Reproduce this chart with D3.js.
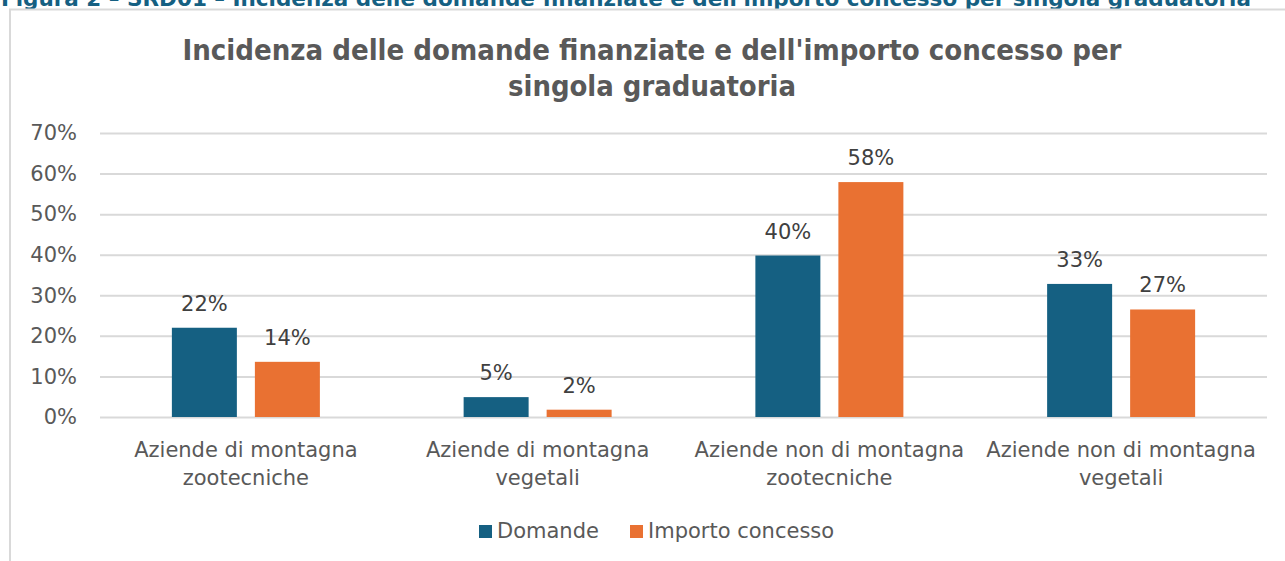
<!DOCTYPE html>
<html>
<head>
	<meta charset="utf-8">
	<title>Incidenza domande</title>
	<style type="text/css">
		body { margin: 0; background: #fff; }
		svg { display: block; font-family: "DejaVu Sans", sans-serif; }
	</style>
</head>
<body>
<script src="https://cdn.jsdelivr.net/npm/d3@7"></script>
<script type="text/javascript">
	/*========= DATA =========*/
	var categories = [
		["Aziende di montagna", "zootecniche"],
		["Aziende di montagna", "vegetali"],
		["Aziende non di montagna", "zootecniche"],
		["Aziende non di montagna", "vegetali"]
	];
	var seriesNames = ["Domande", "Importo concesso"];
	var domande = [22.0, 4.9, 39.8, 32.8];
	var importo = [13.6, 1.8, 57.9, 26.5];
	var yTicks = [0, 10, 20, 30, 40, 50, 60, 70];
	var colors = ["#156082", "#E97132"];

	var heading = "Figura 2 – SRD01 – Incidenza delle domande finanziate e dell'importo concesso per singola graduatoria";
	var titleLines = ["Incidenza delle domande finanziate e dell'importo concesso per", "singola graduatoria"];

	/*========= SIZE =========*/
	var w = 1285, h = 561;
	var margin = { left: 100, right: 18, top: 133, bottom: 144 };
	var fs = 21;
	var svg = d3.select("body").append("svg").attr("width", w).attr("height", h);

	// heading of the page, cut by the top edge
	svg.append("text")
		.attr("x", 1).attr("y", 6)
		.attr("fill", "#156082")
		.attr("font-weight", "bold")
		.attr("font-size", 21)
		.attr("font-family", "'DejaVu Sans Condensed', 'DejaVu Sans', sans-serif")
		.attr("textLength", 1250).attr("lengthAdjust", "spacingAndGlyphs")
		.text(heading);

	// chart frame
	svg.append("path")
		.attr("d", "M10," + h + "V9.5H" + w)
		.attr("fill", "none")
		.attr("stroke", "#d9d9d9")
		.attr("stroke-width", 2);

	/*========= TITLE =========*/
	svg.append("g").selectAll("text")
		.data(titleLines)
		.enter().append("text")
		.attr("x", 652)
		.attr("y", function(d, i) { return 60 + i * 36; })
		.attr("text-anchor", "middle")
		.attr("fill", "#595959")
		.attr("font-weight", "bold")
		.attr("font-size", 28)
		.attr("font-family", "'DejaVu Sans Condensed', 'DejaVu Sans', sans-serif")
		.attr("textLength", function(d, i) { return i === 0 ? 939 : 288; })
		.attr("lengthAdjust", "spacingAndGlyphs")
		.text(function(d) { return d; });

	/*========= SCALES =========*/
	var x0 = d3.scaleBand()
		.domain(d3.range(categories.length))
		.range([margin.left, w - margin.right]);
	var half = 74;
	var x1 = d3.scaleBand()
		.domain(seriesNames)
		.range([x0.bandwidth() / 2 - half, x0.bandwidth() / 2 + half])
		.paddingInner(0.217);
	var y = d3.scaleLinear()
		.domain([0, 70])
		.range([h - margin.bottom, margin.top]);

	/*========= GRID + Y AXIS =========*/
	var yAxis = d3.axisLeft(y)
		.tickValues(yTicks)
		.tickSize(-(w - margin.right - margin.left))
		.tickPadding(23)
		.tickFormat(function(d) { return d + "%"; });
	var gy = svg.append("g")
		.attr("transform", "translate(" + margin.left + ",0)")
		.call(yAxis);
	gy.select(".domain").remove();
	gy.selectAll(".tick line").attr("stroke", "#d9d9d9").attr("stroke-width", 2);
	gy.selectAll(".tick text")
		.attr("fill", "#595959")
		.attr("font-size", fs)
		.attr("font-family", "'DejaVu Sans', sans-serif");

	/*========= BARS =========*/
	var rows = categories.map(function(c, i) {
		return [
			{ s: seriesNames[0], v: domande[i], c: 0 },
			{ s: seriesNames[1], v: importo[i], c: 1 }
		];
	});
	var groups = svg.selectAll("g.cat")
		.data(rows)
		.enter().append("g")
		.attr("class", "cat")
		.attr("transform", function(d, i) { return "translate(" + x0(i) + ",0)"; });

	groups.selectAll("rect")
		.data(function(d) { return d; })
		.enter().append("rect")
		.attr("x", function(d) { return x1(d.s); })
		.attr("width", x1.bandwidth())
		.attr("y", function(d) { return y(d.v); })
		.attr("height", function(d) { return y(0) - y(d.v); })
		.attr("fill", function(d) { return colors[d.c]; });

	groups.selectAll("text.lbl")
		.data(function(d) { return d; })
		.enter().append("text")
		.attr("class", "lbl")
		.attr("x", function(d) { return x1(d.s) + x1.bandwidth() / 2; })
		.attr("y", function(d) { return y(d.v) - 17; })
		.attr("text-anchor", "middle")
		.attr("fill", "#404040")
		.attr("font-size", fs)
		.text(function(d) { return Math.round(d.v) + "%"; });

	/*========= X LABELS =========*/
	var xl = svg.append("g").selectAll("text")
		.data(categories)
		.enter().append("text")
		.attr("text-anchor", "middle")
		.attr("fill", "#595959")
		.attr("font-size", fs)
		.attr("transform", function(d, i) { return "translate(" + (x0(i) + x0.bandwidth() / 2) + ",457)"; });
	xl.selectAll("tspan")
		.data(function(d) { return d; })
		.enter().append("tspan")
		.attr("x", 0)
		.attr("y", function(d, i) { return i * 28; })
		.text(function(d) { return d; });

	/*========= LEGEND =========*/
	var legX = [479, 630];
	var leg = svg.append("g").selectAll("g")
		.data(seriesNames)
		.enter().append("g")
		.attr("transform", function(d, i) { return "translate(" + legX[i] + ",525)"; });
	leg.append("rect")
		.attr("width", 13).attr("height", 13)
		.attr("fill", function(d, i) { return colors[i]; });
	leg.append("text")
		.attr("x", 18).attr("y", 13)
		.attr("fill", "#595959")
		.attr("font-size", fs)
		.text(function(d) { return d; });
</script>
</body>
</html>
